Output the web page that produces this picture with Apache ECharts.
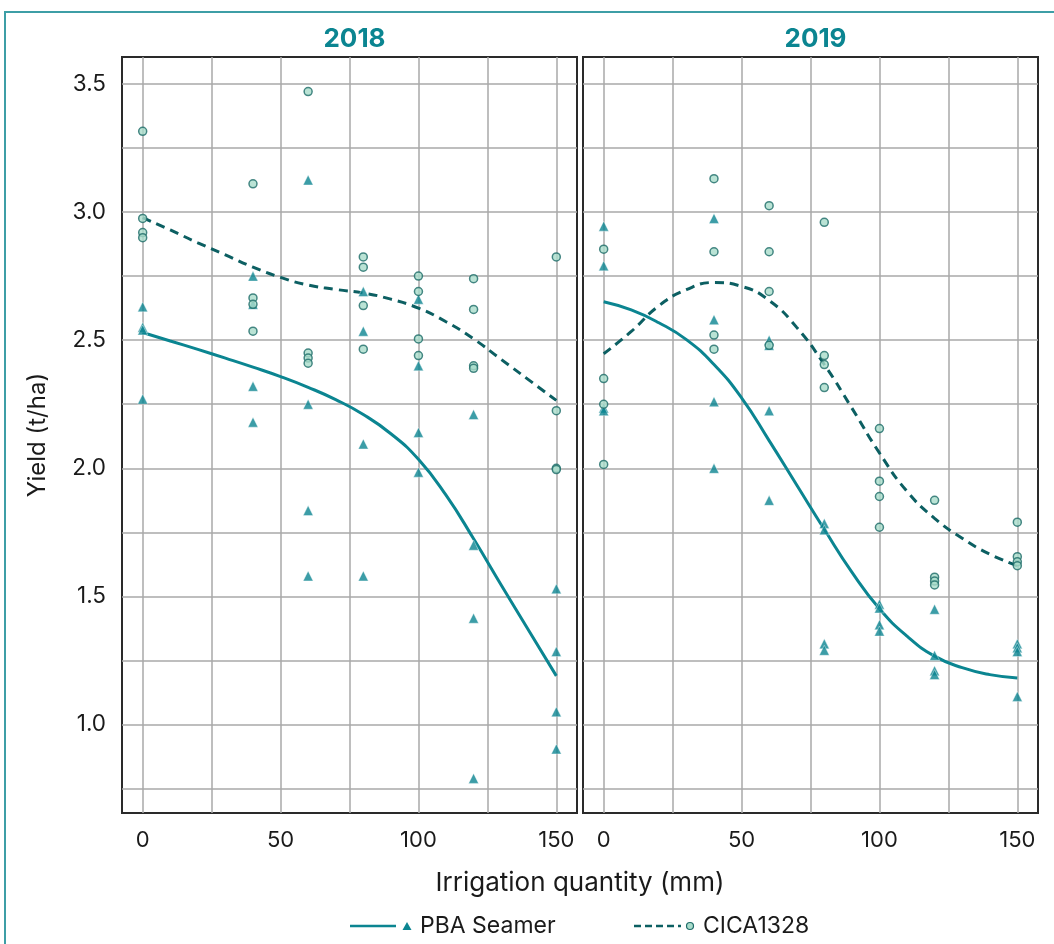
<!DOCTYPE html>
<html>
<head>
<meta charset="utf-8">
<script src="https://cdn.jsdelivr.net/npm/echarts@6/dist/echarts.min.js"></script>
<style>
  html, body { margin: 0; padding: 0; background: #fff; }
  #chart { width: 1054px; height: 944px; }
</style>
</head>
<body>
<div id="chart"></div>
<script>
// irrigation levels (mm) and the four plot values read at each level
const irrigation = [0, 40, 60, 80, 100, 120, 150];

const seamer2018 = [
  [2.63, 2.55, 2.54, 2.27], [2.75, 2.64, 2.32, 2.18], [3.125, 2.25, 1.835, 1.58],
  [2.69, 2.535, 2.095, 1.58], [2.66, 2.40, 2.14, 1.985], [2.21, 1.70, 1.415, 0.79],
  [1.53, 1.285, 1.05, 0.905]
];
const cica2018 = [
  [3.315, 2.975, 2.92, 2.90], [3.11, 2.665, 2.64, 2.535], [3.47, 2.45, 2.43, 2.41],
  [2.825, 2.785, 2.635, 2.465], [2.75, 2.69, 2.505, 2.44], [2.74, 2.62, 2.40, 2.39],
  [2.825, 2.225, 2.0, 1.995]
];
const seamer2019 = [
  [2.945, 2.79, 2.235, 2.225], [2.975, 2.58, 2.26, 2.0], [2.50, 2.48, 2.225, 1.875],
  [1.785, 1.76, 1.315, 1.29], [1.47, 1.455, 1.39, 1.365], [1.45, 1.27, 1.21, 1.195],
  [1.315, 1.30, 1.285, 1.11]
];
const cica2019 = [
  [2.855, 2.35, 2.25, 2.015], [3.13, 2.845, 2.52, 2.465], [3.025, 2.845, 2.69, 2.48],
  [2.96, 2.44, 2.405, 2.315], [2.155, 1.95, 1.89, 1.77], [1.875, 1.575, 1.56, 1.545],
  [1.79, 1.655, 1.635, 1.62]
];

// fitted curves, read every 10 mm
const fitX = [0, 10, 20, 30, 40, 50, 60, 70, 80, 90, 100, 110, 120, 130, 140, 150];
const seamerFit2018 = [2.53, 2.497, 2.464, 2.43, 2.395, 2.358, 2.316, 2.268, 2.21, 2.135, 2.035, 1.895, 1.725, 1.545, 1.367, 1.19];
const cicaFit2018 = [2.978, 2.93, 2.88, 2.833, 2.785, 2.745, 2.715, 2.698, 2.684, 2.66, 2.625, 2.572, 2.505, 2.425, 2.345, 2.265];
const seamerFit2019 = [2.65, 2.618, 2.568, 2.502, 2.405, 2.275, 2.108, 1.935, 1.762, 1.595, 1.452, 1.345, 1.267, 1.222, 1.195, 1.182];
const cicaFit2019 = [2.447, 2.534, 2.634, 2.697, 2.725, 2.71, 2.655, 2.55, 2.405, 2.235, 2.06, 1.91, 1.805, 1.727, 1.665, 1.62];

const years = ['2018', '2019'];
const xTicks = [0, 25, 50, 75, 100, 125, 150];
const xLabels = [0, 50, 100, 150];
const yTicks = [0.75, 1.0, 1.25, 1.5, 1.75, 2.0, 2.25, 2.5, 2.75, 3.0, 3.25, 3.5];
const yLabels = [1.0, 1.5, 2.0, 2.5, 3.0, 3.5];

const TEAL = '#0b8591';
const DARK_TEAL = '#0c5f62';
const MINT = '#a9dccb';
const FONT = 'Inter';

function points(groups) {
  const out = [];
  groups.forEach((vals, i) => vals.forEach(v => out.push([irrigation[i], v])));
  return out;
}
function curve(ys) {
  return fitX.map((x, i) => [x, ys[i]]);
}

const chart = echarts.init(document.getElementById('chart'));

const grids = [
  { left: 122, top: 57, width: 455, height: 756 },
  { left: 583, top: 57, width: 455, height: 756 }
].map(g => Object.assign(g, { show: true, borderColor: '#2a2a2a', borderWidth: 2, backgroundColor: '#fff' }));

const xAxes = [0, 1].map(i => ({
  type: 'value', gridIndex: i, min: -7.5, max: 157.5,
  axisLine: { show: false },
  axisTick: { show: false, customValues: xTicks },
  axisLabel: { customValues: xLabels, color: '#1a1a1a', fontSize: 22, fontFamily: FONT, margin: 16 },
  splitLine: { show: true, lineStyle: { color: '#a9a9a9', width: 1.5 } }
}));

const yAxes = [0, 1].map(i => ({
  type: 'value', gridIndex: i, min: 0.655, max: 3.605,
  name: i === 0 ? 'Yield (t/ha)' : '',
  nameLocation: 'middle', nameRotate: 90, nameGap: 72,
  nameTextStyle: { color: '#1a1a1a', fontSize: 24, fontFamily: FONT },
  axisLine: { show: false },
  axisTick: { show: false, customValues: yTicks },
  axisLabel: {
    show: i === 0, customValues: yLabels, color: '#1a1a1a', fontSize: 22.5, fontFamily: FONT, margin: 16,
    formatter: v => v.toFixed(1)
  },
  splitLine: { show: true, lineStyle: { color: '#a9a9a9', width: 1.5 } }
}));

const series = [];
[[seamerFit2018, cicaFit2018, seamer2018, cica2018], [seamerFit2019, cicaFit2019, seamer2019, cica2019]]
  .forEach(([sf, cf, sp, cp], i) => {
    series.push({
      name: 'PBA Seamer', type: 'line', xAxisIndex: i, yAxisIndex: i, data: curve(sf),
      smooth: 0.5, showSymbol: false, symbol: 'none', z: 3,
      lineStyle: { color: TEAL, width: 3 }
    });
    series.push({
      name: 'CICA1328', type: 'line', xAxisIndex: i, yAxisIndex: i, data: curve(cf),
      smooth: 0.5, showSymbol: false, symbol: 'none', z: 3,
      lineStyle: { color: DARK_TEAL, width: 3, type: [9, 6] }
    });
    series.push({
      name: 'PBA Seamer', type: 'scatter', xAxisIndex: i, yAxisIndex: i, data: points(sp),
      symbol: 'triangle', symbolSize: 10, z: 4,
      itemStyle: { color: TEAL, borderColor: '#fff', borderWidth: 0.5 }
    });
    series.push({
      name: 'CICA1328', type: 'scatter', xAxisIndex: i, yAxisIndex: i, data: points(cp),
      symbol: 'circle', symbolSize: 8, z: 4,
      itemStyle: { color: MINT, borderColor: '#1d6b68', borderWidth: 1.5 }
    });
  });

const option = {
  backgroundColor: '#fff',
  animation: false,
  title: years.map((y, i) => ({
    text: y, left: grids[i].left + grids[i].width / 2, top: 21, textAlign: 'center',
    textStyle: { color: TEAL, fontSize: 26, fontWeight: 'bold', fontFamily: FONT }
  })),
  grid: grids,
  xAxis: xAxes,
  yAxis: yAxes,
  series: series,
  graphic: [
    { type: 'rect', shape: { x: 5, y: 12, width: 1200, height: 1200 }, style: { fill: 'none', stroke: '#3d9ea6', lineWidth: 2 }, z: -10, silent: true },
    { type: 'text', x: 580, y: 883, style: { text: 'Irrigation quantity (mm)', fill: '#1a1a1a', fontSize: 26, fontFamily: FONT, align: 'center', verticalAlign: 'middle' } },
    { type: 'line', shape: { x1: 350, y1: 926, x2: 396, y2: 926 }, style: { stroke: TEAL, lineWidth: 2.5 } },
    { type: 'polygon', shape: { points: [[402.5, 930], [411.5, 930], [407, 922]] }, style: { fill: TEAL } },
    { type: 'text', x: 420, y: 926, style: { text: 'PBA Seamer', fill: '#1a1a1a', fontSize: 23, fontFamily: FONT, verticalAlign: 'middle' } },
    { type: 'line', shape: { x1: 634, y1: 926, x2: 681, y2: 926 }, style: { stroke: DARK_TEAL, lineWidth: 2.5, lineDash: [7, 4] } },
    { type: 'circle', shape: { cx: 690, cy: 926, r: 3.5 }, style: { fill: MINT, stroke: '#1d6b68', lineWidth: 1.2 } },
    { type: 'text', x: 703, y: 926, style: { text: 'CICA1328', fill: '#1a1a1a', fontSize: 23, fontFamily: FONT, verticalAlign: 'middle' } }
  ]
};

chart.setOption(option);
</script>
</body>
</html>
